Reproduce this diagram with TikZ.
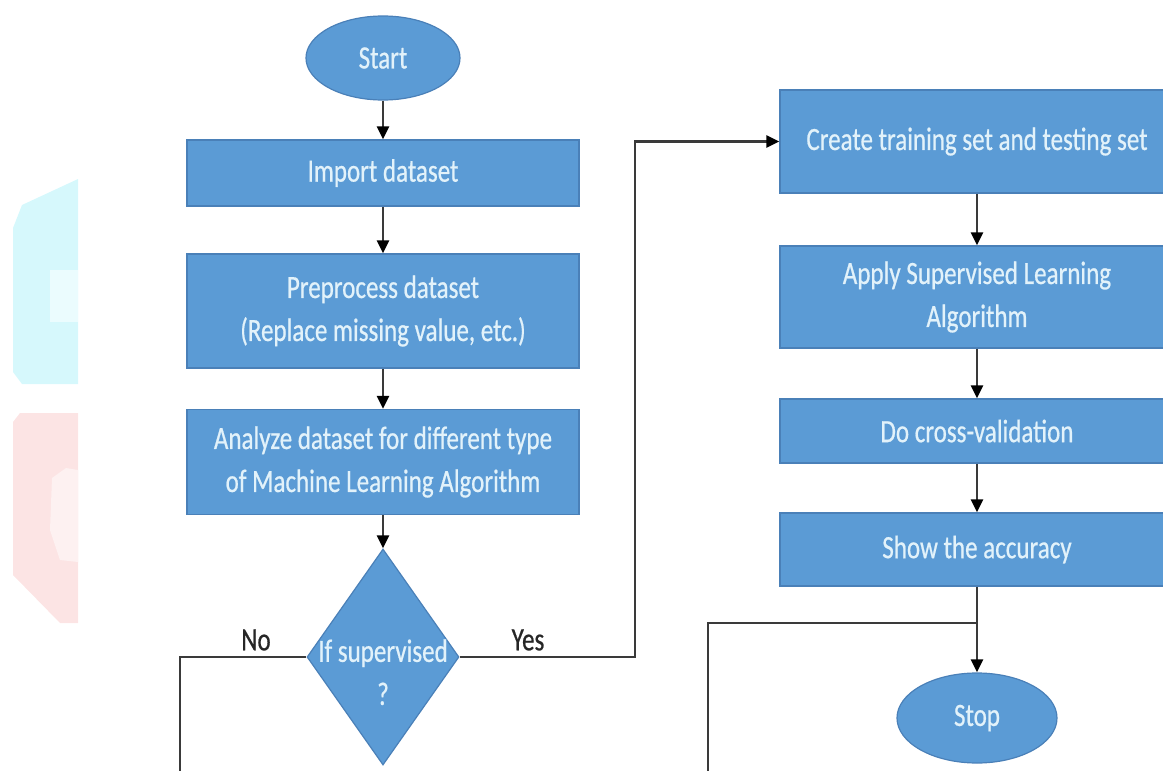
\documentclass[tikz,border=0pt]{standalone}
\usepackage{fontspec}
\setmainfont{Carlito}[FakeStretch=0.77,FakeBold=0.6]
\usetikzlibrary{shapes.geometric,arrows.meta,calc}
\definecolor{boxblue}{HTML}{5B9BD5}
\definecolor{boxedge}{HTML}{4A80B8}
\definecolor{boxtext}{HTML}{E2F2FA}
\definecolor{linecol}{HTML}{3A3A3A}
\definecolor{wmcyan}{HTML}{D6F8FC}
\definecolor{wmcyanin}{HTML}{EBFCFE}
\definecolor{wmpink}{HTML}{FCE4E4}
\definecolor{wmpinkin}{HTML}{FDF1F1}
\begin{document}
\begin{tikzpicture}[x=1pt,y=-1pt,
  every node/.style={font=\fontsize{32.5}{43}\selectfont},
  proc/.style={rectangle, draw=boxedge, line width=1.2pt, fill=boxblue, text=boxtext,
    align=center, inner sep=0pt, minimum width=392},
  rproc/.style={proc, minimum width=394},
  term/.style={ellipse, draw=boxedge, line width=1.2pt, fill=boxblue, text=boxtext, inner sep=0pt},
  decision/.style={diamond, draw=boxedge, line width=1.2pt, fill=boxblue, text=boxtext,
    inner sep=0pt, minimum width=152, minimum height=216},
  conn/.style={draw=linecol, line width=2.6pt},
  arr/.style={conn, -{Triangle[length=13pt,width=12pt,color=black]}},
  lbl/.style={text=black!85}
]
\useasboundingbox (0,0) rectangle (1163,771);
\clip (0,0) rectangle (1163,771);
% faded watermark at the left edge
\fill[wmcyan] (13,228) -- (22,205) -- (78,179) -- (78,384) -- (22,384) -- (13,372) -- cycle;
\fill[wmcyanin] (50,270) rectangle (78,322);
\fill[wmpink] (13,422) -- (20,413) -- (78,413) -- (78,623) -- (60,623) -- (13,575) -- cycle;
\fill[wmpinkin] (52,478) -- (66,468) -- (78,470) -- (78,562) -- (60,560) -- (50,530) -- cycle;

% left column
\node[term, minimum width=154, minimum height=84] (start) at (383,58) {Start};
\node[proc, minimum height=66] (import) at (383,173) {Import dataset};
\node[proc, minimum height=114] (prep) at (383,311) {Preprocess dataset\\(Replace missing value, etc.)};
\node[proc, minimum height=105] (analyze) at (383,462) {Analyze dataset for different type\\of Machine Learning Algorithm};
\node[decision] (dec) at (383,657)
  {\makebox[0pt]{\raisebox{-24pt}[0pt][0pt]{\begin{tabular}{@{}c@{}}If supervised\\?\end{tabular}}}};

% right column
\node[rproc, minimum height=103] (create) at (977,141.5) {Create training set and testing set};
\node[rproc, minimum height=102] (apply) at (977,297) {Apply Supervised Learning\\Algorithm};
\node[rproc, minimum height=64] (cross) at (977,431) {Do cross-validation};
\node[rproc, minimum height=73] (show) at (977,549.5) {Show the accuracy};
\node[term, minimum width=160, minimum height=90] (stop) at (977,718) {Stop};

% labels
\node[lbl] (no) at (256,640) {No};
\node[lbl] (yes) at (528,640) {Yes};

% free ends and bends
\coordinate (noend) at (180,775);
\coordinate (yesx) at (635,0);
\coordinate (mend) at (708,775);
\coordinate (merge) at (977,623);

% connectors
\draw[arr] (start) -- (import);
\draw[arr] (import) -- (prep);
\draw[arr] (prep) -- (analyze);
\draw[arr] (analyze) -- (dec);
\draw[conn] (dec.west) -| (noend);
\draw[arr] (dec.east) -| (yesx |- create.west) -- (create.west);
\draw[arr] (create) -- (apply);
\draw[arr] (apply) -- (cross);
\draw[arr] (cross) -- (show);
\draw[arr] (show) -- (stop);
\draw[conn] (mend) |- (merge);
\end{tikzpicture}
\end{document}
